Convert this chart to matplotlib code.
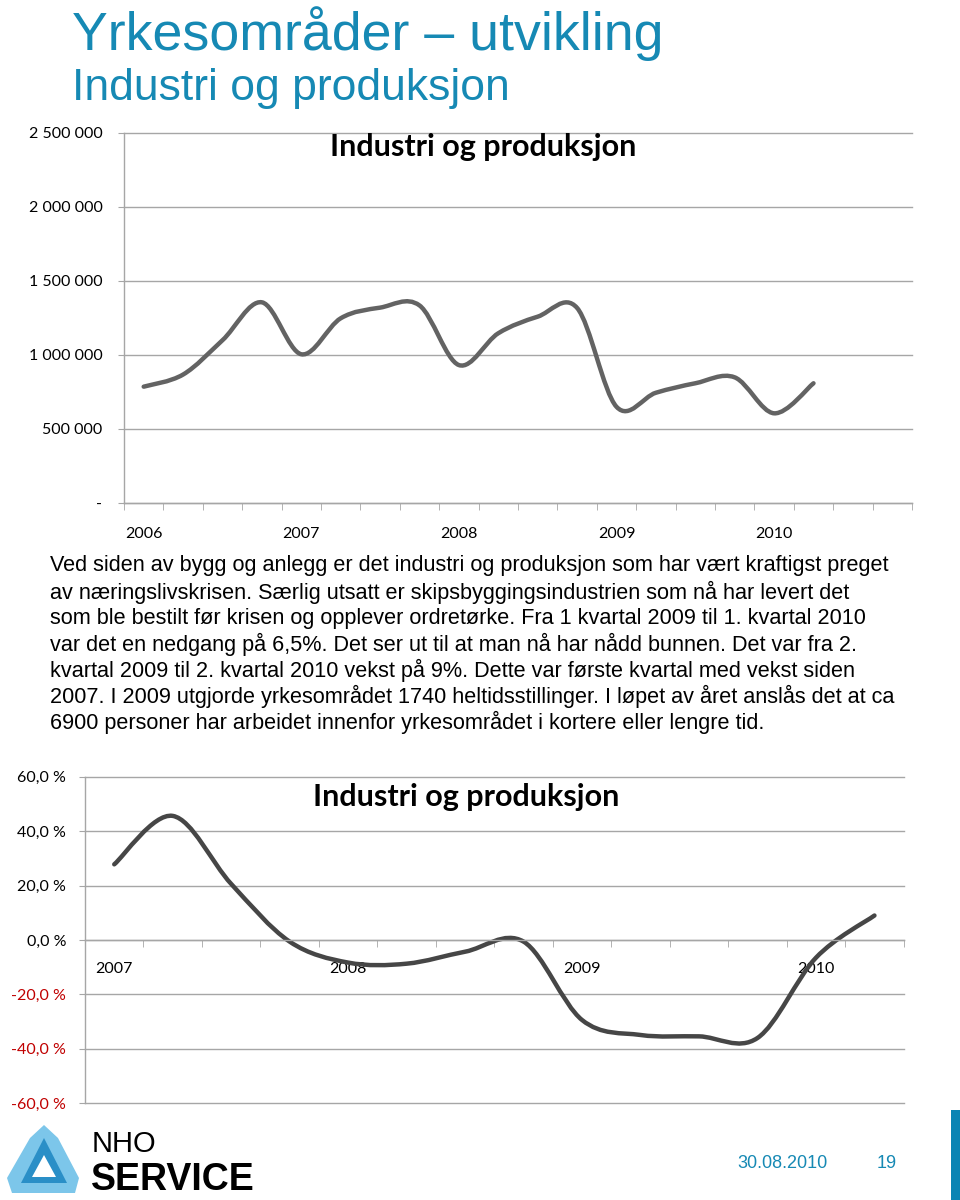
import numpy as np
import matplotlib
matplotlib.use("Agg")
import matplotlib.pyplot as plt
from matplotlib.path import Path
from matplotlib.patches import PathPatch, Polygon, Rectangle

# --- data -------------------------------------------------------------
aar_1 = ["2006", "2007", "2008", "2009", "2010"]
antall_kvartal_1 = 20
verdi = [786000, 868000, 1100000, 1356000, 1005000, 1248000, 1320000, 1335000,
         932000, 1147000, 1259000, 1318000, 650000, 745000, 809000, 849000,
         606000, 809000]
y_ticks_1 = [0, 500000, 1000000, 1500000, 2000000, 2500000]

aar_2 = ["2007", "2008", "2009", "2010"]
antall_kvartal_2 = 14
vekst = [27.8, 45.6, 20.6, -0.6, -8.3, -8.7, -4.3, -0.6, -29.4, -34.9,
         -35.4, -36.0, -6.5, 9.0]
y_ticks_2 = [-60, -40, -20, 0, 20, 40, 60]

tittel = "Yrkesområder – utvikling"
undertittel = "Industri og produksjon"
diagram_tittel = "Industri og produksjon"
tekst = [
    "Ved siden av bygg og anlegg er det industri og produksjon som har vært kraftigst preget",
    "av næringslivskrisen. Særlig utsatt er skipsbyggingsindustrien som nå har levert det",
    "som ble bestilt før krisen og opplever ordretørke. Fra 1 kvartal 2009 til 1. kvartal 2010",
    "var det en nedgang på 6,5%. Det ser ut til at man nå har nådd bunnen. Det var fra 2.",
    "kvartal 2009 til 2. kvartal 2010 vekst på 9%. Dette var første kvartal med vekst siden",
    "2007. I 2009 utgjorde yrkesområdet 1740 heltidsstillinger. I løpet av året anslås det at ca",
    "6900 personer har arbeidet innenfor yrkesområdet i kortere eller lengre tid.",
]

# --- fonts / colours ----------------------------------------------------
kal = "Lato"
arial = "Liberation Sans"
blaa = "#1689b4"
grid_farge = "#a6a6a6"
rod = "#c00000"


def glatt_bane(xs, ys):
    # Bezier-kurve gjennom punktene (som "glattet linje" i Excel)
    p = np.column_stack([xs, ys]).astype(float)
    n = len(p)
    verts = [p[0]]
    codes = [Path.MOVETO]
    for i in range(n - 1):
        p0 = p[max(i - 1, 0)]
        p1 = p[i]
        p2 = p[i + 1]
        p3 = p[min(i + 2, n - 1)]
        verts += [p1 + (p2 - p0) / 6, p2 - (p3 - p1) / 6, p2]
        codes += [Path.CURVE4] * 3
    return Path(verts, codes)


W, H = 960, 1200
fig = plt.figure(figsize=(9.6, 12), dpi=100)

# bakgrunn i pikselkoordinater for tekst og logo
bg = fig.add_axes([0, 0, 1, 1])
bg.set_xlim(0, W)
bg.set_ylim(H, 0)
bg.axis("off")

bg.text(72, 50, tittel, family=arial, fontsize=38.7, color=blaa, va="baseline")
bg.text(72, 100, undertittel, family=arial, fontsize=32, color=blaa, va="baseline")

for i, linje in enumerate(tekst):
    bg.text(50, 566 + i * 26.1, linje, family=arial, fontsize=15.6,
            color="black", va="center")

# logo
bg.add_patch(Polygon([[44, 1125], [58, 1138], [79, 1178], [75, 1193], [12, 1193], [7, 1178], [30, 1138]],
                     closed=True, facecolor="#7cc6ea", edgecolor="none"))
bg.add_patch(Polygon([[44, 1138], [67, 1183], [21, 1183]], closed=True,
                     facecolor="#2a8fc7", edgecolor="none"))
bg.add_patch(Polygon([[44, 1155], [56, 1177], [32, 1177]], closed=True,
                     facecolor="white", edgecolor="none"))
bg.text(92, 1152, "NHO", family=arial, fontsize=21, color="black", va="baseline")
bg.text(91, 1190, "SERVICE", family=arial, fontsize=27, weight="bold",
        color="black", va="baseline")

bg.text(782, 1164, "30.08.2010", family=arial, fontsize=13, color=blaa,
        ha="center", va="center")
bg.text(887, 1164, "19", family=arial, fontsize=13, color=blaa,
        ha="center", va="center")
bg.add_patch(Rectangle((951, 1110), 9, 90, facecolor="#0a84b4", edgecolor="none"))


def px_axes(x0, y0, x1, y1):
    return fig.add_axes([x0 / W, 1 - y1 / H, (x1 - x0) / W, (y1 - y0) / H])


def stil(ax):
    ax.set_facecolor("none")
    for s in ("top", "right"):
        ax.spines[s].set_visible(False)
    ax.spines["left"].set_color(grid_farge)
    ax.spines["bottom"].set_color(grid_farge)
    ax.spines["left"].set_linewidth(1.0)
    ax.spines["bottom"].set_linewidth(1.0)
    ax.grid(axis="y", color=grid_farge, linewidth=1.0)
    ax.set_axisbelow(True)
    ax.tick_params(axis="y", which="major", length=4.5, color=grid_farge,
                   labelsize=11.5, labelfontfamily=kal)
    ax.tick_params(axis="x", which="major", length=0, labelsize=11.5, labelfontfamily=kal)
    ax.tick_params(axis="x", which="minor", length=5, color=grid_farge, direction="out")


def grid_uten_klipp(ax):
    for gl in ax.get_ygridlines():
        gl.set_clip_on(False)


# --- diagram 1 ----------------------------------------------------------
ax1 = px_axes(124, 133, 912, 503)
stil(ax1)
x1 = np.arange(len(verdi))
ax1.add_patch(PathPatch(glatt_bane(x1, verdi), facecolor="none",
                        edgecolor="#636363", linewidth=3.2, capstyle="round"))
ax1.set_xlim(-0.5, antall_kvartal_1 - 0.5)
ax1.set_ylim(0, 2500000)
ax1.set_yticks(y_ticks_1,
               ["-" if v == 0 else f"{v:,}".replace(",", " ") for v in y_ticks_1])
ax1.set_xticks(np.arange(0, antall_kvartal_1, 4), aar_1)
ax1.set_xticks(np.arange(-0.5, antall_kvartal_1, 1), minor=True)
ax1.tick_params(axis="x", which="major", pad=17)
ax1.tick_params(axis="y", which="major", pad=11)
grid_uten_klipp(ax1)
ax1.text(0.4556, 0.962, diagram_tittel, transform=ax1.transAxes, family=kal,
         fontsize=22, weight="bold", ha="center", va="center")

# --- diagram 2 ----------------------------------------------------------
ax2 = px_axes(85, 776.7, 903.7, 1103.3)
stil(ax2)
x2 = np.arange(len(vekst))
ax2.add_patch(PathPatch(glatt_bane(x2, vekst), facecolor="none",
                        edgecolor="#464646", linewidth=3.2, capstyle="round"))
ax2.set_xlim(-0.5, antall_kvartal_2 - 0.5)
ax2.set_ylim(-60, 60)
ax2.spines["bottom"].set_position(("data", 0))
ax2.set_yticks(y_ticks_2, [f"{v:.1f} %".replace(".", ",") for v in y_ticks_2])
for lbl, v in zip(ax2.get_yticklabels(), y_ticks_2):
    lbl.set_color(rod if v < 0 else "black")
ax2.set_xticks(np.arange(0, antall_kvartal_2, 4), aar_2)
ax2.set_xticks(np.arange(-0.5, antall_kvartal_2, 1), minor=True)
ax2.tick_params(axis="x", which="major", pad=16)
ax2.tick_params(axis="y", which="major", pad=9)
grid_uten_klipp(ax2)
ax2.text(0.465, 0.938, diagram_tittel, transform=ax2.transAxes, family=kal,
         fontsize=22, weight="bold", ha="center", va="center")

fig.savefig("out.png", dpi=100)
